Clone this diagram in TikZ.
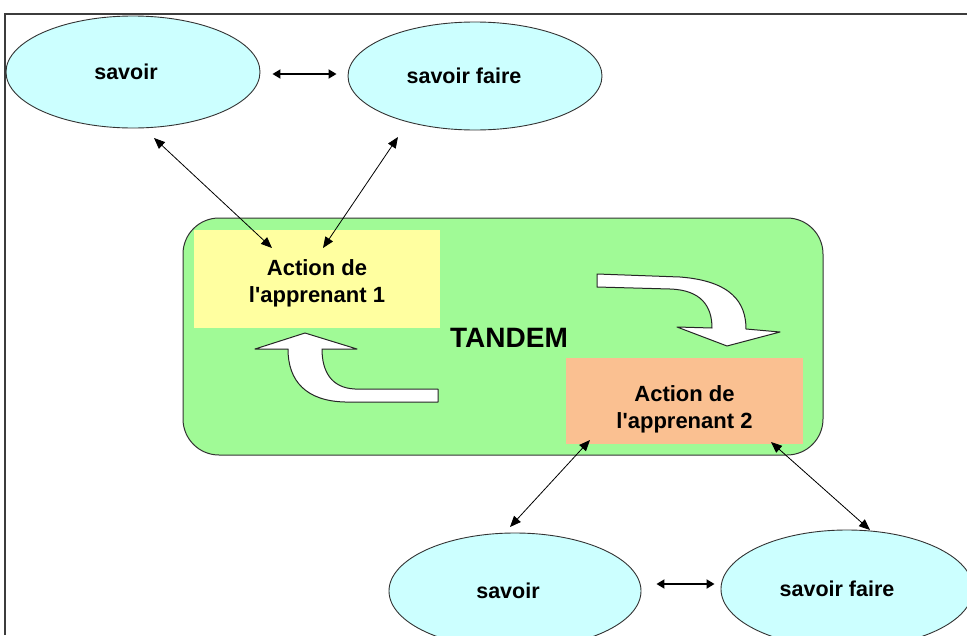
\documentclass[tikz,border=0pt]{standalone}
\usepackage{fontspec}
\setmainfont{Liberation Sans}
\usetikzlibrary{shapes.geometric,arrows.meta,calc}

\definecolor{bubble}{RGB}{204,255,255}
\definecolor{tandemgreen}{RGB}{160,250,150}
\definecolor{learnerone}{RGB}{255,255,160}
\definecolor{learnertwo}{RGB}{250,192,145}
\definecolor{framegray}{RGB}{60,60,60}

\tikzset{
  bubblenode/.style={ellipse, draw=black!80, line width=0.9pt, fill=bubble,
    inner sep=0pt, font=\bfseries\fontsize{21.5}{24}\selectfont},
  actionbox/.style={rectangle, inner sep=0pt},
  actiontext/.style={align=center, inner sep=0pt,
    font=\bfseries\fontsize{22}{27}\selectfont},
  link/.style={line width=0.8pt, {Triangle[length=11pt,width=9pt]}-{Triangle[length=11pt,width=9pt]}},
  pairlink/.style={line width=1.8pt, {Triangle[length=8pt,width=9pt]}-{Triangle[length=8pt,width=9pt]}},
  blockarrow/.style={fill=white, draw=black!85, line width=1pt, line join=round},
}

\begin{document}
\begin{tikzpicture}[x=1pt,y=-1pt]
\useasboundingbox (0,0) rectangle (967,635);

% page frame (top and left edges visible)
\draw[framegray, line width=1.6pt] (5,635) -- (5,14) -- (967,14);

% tandem area
\node[draw=black!80, line width=1pt, fill=tandemgreen, rounded corners=36pt,
      minimum width=640pt, minimum height=237pt, inner sep=0pt] (tandem) at (503,336.5) {};

\node[actionbox, fill=learnerone, minimum width=246pt, minimum height=98pt] (act1) at (317,279) {};
\node[actiontext] (act1text) at ([yshift=-4pt]act1.center) {Action de\\l\textquotesingle apprenant 1};
\node[actionbox, fill=learnertwo, minimum width=237pt, minimum height=86pt] (act2) at (684.5,401) {};
\node[actiontext] (act2text) at ([yshift=-8pt]act2.center) {Action de\\l\textquotesingle apprenant 2};

\node[font=\bfseries\fontsize{28}{32}\selectfont] (tandemlabel) at (509,338) {TANDEM};

% knowledge bubbles
\node[bubblenode, minimum width=254pt, minimum height=112pt] (sv1) at (133,72) {\hspace*{-14pt}savoir};
\node[bubblenode, minimum width=254pt, minimum height=108pt] (svf1) at (475,76) {\hspace*{-22pt}savoir faire};
\node[bubblenode, minimum width=252pt, minimum height=116pt] (sv2) at (515,591) {\hspace*{-14pt}savoir};
\node[bubblenode, minimum width=252pt, minimum height=118pt] (svf2) at (847,589) {\hspace*{-20pt}savoir faire};

% links between the bubbles
\coordinate (m1) at ($(sv1.east)!0.5!(svf1.west)$);
\coordinate (m2) at ([yshift=6pt]$(sv2.east)!0.5!(svf2.west)$);
\draw[pairlink] ([xshift=12pt]sv1.east |- m1) -- ([xshift=-11pt]svf1.west |- m1);
\draw[pairlink] ([xshift=15pt]sv2.east |- m2) -- ([xshift=-6pt]svf2.west |- m2);

% links between bubbles and learners
\draw[link] ([shift={(21,66)}]sv1.center) -- ([shift={(-45,-31)}]act1.center);
\draw[link] ([shift={(-77,61)}]svf1.center) -- ([shift={(6,-31)}]act1.center);
\draw[link] ([shift={(-94.5,39)}]act2.center) -- ([shift={(-5,-64)}]sv2.center);
\draw[link] ([shift={(86.5,41)}]act2.center) -- ([shift={(23,-59)}]svf2.center);

% curved block arrow from learner 1 to learner 2
\draw[blockarrow] (597,274) -- (680,277)
  .. controls (732,281) and (746,303) .. (746,329)
  -- (780,332) -- (727,346) -- (677,327) -- (712,328)
  .. controls (712,306) and (701,290) .. (670,289)
  -- (597,287) -- cycle;

% curved block arrow from learner 2 back to learner 1
\draw[blockarrow] (438,389) -- (355,389)
  .. controls (331,388) and (322,371) .. (322,349)
  -- (357,349) -- (305,333) -- (255,349) -- (288,349)
  .. controls (288,381) and (306,401) .. (345,402)
  -- (438,402) -- cycle;
\end{tikzpicture}
\end{document}
